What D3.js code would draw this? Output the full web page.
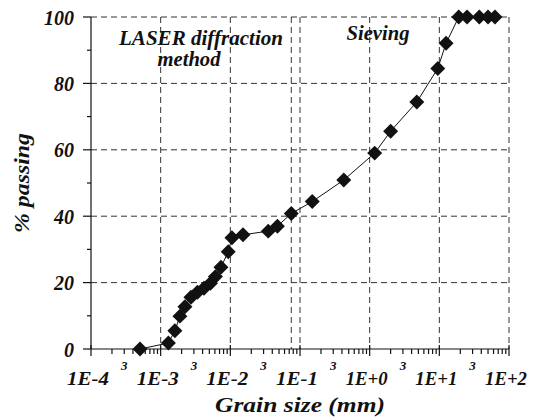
<!DOCTYPE html>
<html>
<head>
<meta charset="utf-8">
<script src="https://cdn.jsdelivr.net/npm/d3@7"></script>
<style>
  body { margin: 0; background: #fff; font-family: "Liberation Serif", "Times New Roman", Times, serif; }
  svg text { font-family: "Liberation Serif", "Times New Roman", Times, serif; font-weight: bold; font-style: italic; fill: #111; }
</style>
</head>
<body>
<div id="chart"></div>
<script>
'use strict'

// grain size distribution
const laserSize = [5.05e-4, 1.29e-3, 1.60e-3, 1.89e-3, 2.23e-3, 2.72e-3, 3.37e-3, 4.18e-3, 5.18e-3, 6.11e-3, 7.33e-3, 9.33e-3, 1.055e-2, 1.52e-2, 3.5e-2, 4.74e-2, 0.075]
const laserPassing = [0, 1.8, 5.5, 9.9, 12.7, 15.6, 17.1, 18.3, 19.8, 21.8, 24.6, 29.3, 33.5, 34.4, 35.5, 37.0, 40.8]
const sieveSize = [0.15, 0.425, 1.18, 2.0, 4.75, 9.5, 12.5, 19, 25, 37.5, 50, 63]
const sievePassing = [44.4, 50.9, 59.0, 65.6, 74.4, 84.5, 92.1, 100, 100, 100, 100, 100]

const xTickValues = [1e-4, 1e-3, 1e-2, 1e-1, 1e0, 1e1, 1e2]
const xTickLabels = ['1E-4', '1E-3', '1E-2', '1E-1', '1E+0', '1E+1', '1E+2']
const yTicks = [0, 20, 40, 60, 80, 100]
const yMinorTicks = [10, 30, 50, 70, 90]
const methodLimit = 0.075

////////////////////////////////////
//////////// svg setup /////////////
////////////////////////////////////

const svgWidth = 539, svgHeight = 418
const margin = { left: 91, right: 30, top: 17, bottom: 69 }
const fontFamily = 'Liberation Serif, Times New Roman, Times, serif'

const svg = d3.select('#chart')
    .append('svg')
    .attr('width', svgWidth)
    .attr('height', svgHeight)
    .attr('font-family', fontFamily)

const x = d3.scaleLog()
    .domain([1e-4, 1e2])
    .range([margin.left, svgWidth - margin.right])

const y = d3.scaleLinear()
    .domain([0, 100])
    .range([svgHeight - margin.bottom, margin.top])

const dash = '6,4', gridColor = '#333'

function label(sel, size) {
    return sel.attr('font-family', fontFamily)
        .attr('font-weight', 'bold')
        .attr('font-style', 'italic')
        .attr('font-size', size)
        .attr('fill', '#111')
}

////////////////////////////////////
//////////// grid //////////////////
////////////////////////////////////

svg.append('g').selectAll('line')
    .data(yTicks.filter(d => d > 0))
    .join('line')
    .attr('x1', x(1e-4)).attr('x2', x(1e2))
    .attr('y1', d => y(d)).attr('y2', d => y(d))
    .attr('stroke', gridColor).attr('stroke-dasharray', dash)

svg.append('g').selectAll('line')
    .data(xTickValues.slice(1).concat([methodLimit]))
    .join('line')
    .attr('x1', d => x(d)).attr('x2', d => x(d))
    .attr('y1', y(100)).attr('y2', y(0))
    .attr('stroke', gridColor).attr('stroke-dasharray', dash)

////////////////////////////////////
//////////// axes //////////////////
////////////////////////////////////

const axis = svg.append('g').attr('stroke', '#111').attr('stroke-width', 1.2)

axis.append('line')
    .attr('x1', x(1e-4)).attr('x2', x(1e2))
    .attr('y1', y(0)).attr('y2', y(0))
axis.append('line')
    .attr('x1', x(1e-4)).attr('x2', x(1e-4))
    .attr('y1', y(0)).attr('y2', y(100))

// x minor ticks (2..9 of each decade)
const minor = x.ticks().filter(d => xTickValues.indexOf(d) < 0)
axis.selectAll('.xminor')
    .data(minor)
    .join('line')
    .attr('x1', d => x(d)).attr('x2', d => x(d))
    .attr('y1', y(0)).attr('y2', y(0) + 5)

axis.selectAll('.xmajor')
    .data(xTickValues)
    .join('line')
    .attr('x1', d => x(d)).attr('x2', d => x(d))
    .attr('y1', y(0) - 4).attr('y2', y(0) + 7)

axis.selectAll('.ymajor')
    .data(yTicks)
    .join('line')
    .attr('x1', x(1e-4) - 8).attr('x2', x(1e-4))
    .attr('y1', d => y(d)).attr('y2', d => y(d))

axis.selectAll('.yminor')
    .data(yMinorTicks)
    .join('line')
    .attr('x1', x(1e-4) - 4).attr('x2', x(1e-4))
    .attr('y1', d => y(d)).attr('y2', d => y(d))

// tick labels
svg.append('g').selectAll('text')
    .data(xTickValues)
    .join('text')
    .attr('x', d => x(d) - 3)
    .attr('y', y(0) + 36)
    .attr('text-anchor', 'middle')
    .attr('textLength', 42)
    .attr('lengthAdjust', 'spacingAndGlyphs')
    .text((d, i) => xTickLabels[i])
    .call(label, 19.5)

svg.append('g').selectAll('text')
    .data(x.ticks().filter(d => Math.round(d / Math.pow(10, Math.floor(Math.log10(d) + 1e-9))) === 3))
    .join('text')
    .attr('x', d => x(d))
    .attr('y', y(0) + 21)
    .attr('text-anchor', 'middle')
    .text('3')
    .call(label, 13)

svg.append('g').selectAll('text')
    .data(yTicks)
    .join('text')
    .attr('x', x(1e-4) - 17)
    .attr('y', d => y(d) + 7.5)
    .attr('text-anchor', 'end')
    .text(d => d)
    .call(label, 20)

// axis titles
svg.append('text')
    .attr('x', (x(1e-4) + x(1e2)) / 2)
    .attr('y', 412)
    .attr('text-anchor', 'middle')
    .attr('textLength', 170)
    .attr('lengthAdjust', 'spacingAndGlyphs')
    .text('Grain size (mm)')
    .call(label, 22)

svg.append('text')
    .attr('transform', `translate(29,${(y(0) + y(100)) / 2}) rotate(-90)`)
    .attr('text-anchor', 'middle')
    .attr('textLength', 100)
    .attr('lengthAdjust', 'spacingAndGlyphs')
    .text('% passing')
    .call(label, 22)

// method labels
svg.append('text')
    .attr('x', 201).attr('y', 45)
    .attr('text-anchor', 'middle')
    .attr('textLength', 164)
    .attr('lengthAdjust', 'spacingAndGlyphs')
    .text('LASER diffraction')
    .call(label, 20)
svg.append('text')
    .attr('x', 189).attr('y', 66)
    .attr('text-anchor', 'middle')
    .attr('textLength', 63)
    .attr('lengthAdjust', 'spacingAndGlyphs')
    .text('method')
    .call(label, 20)
svg.append('text')
    .attr('x', 378).attr('y', 40)
    .attr('text-anchor', 'middle')
    .attr('textLength', 63)
    .attr('lengthAdjust', 'spacingAndGlyphs')
    .text('Sieving')
    .call(label, 20)

////////////////////////////////////
//////////// data //////////////////
////////////////////////////////////

const points = laserSize.map((d, i) => [d, laserPassing[i]])
    .concat(sieveSize.map((d, i) => [d, sievePassing[i]]))

svg.append('path')
    .datum(points)
    .attr('fill', 'none')
    .attr('stroke', '#111')
    .attr('stroke-width', 1)
    .attr('d', d3.line().x(d => x(d[0])).y(d => y(d[1])))

svg.append('g').selectAll('path')
    .data(points)
    .join('path')
    .attr('transform', d => `translate(${x(d[0])},${y(d[1])}) rotate(45)`)
    .attr('d', d3.symbol(d3.symbolSquare, 112))
    .attr('fill', '#111')

</script>
</body>
</html>
